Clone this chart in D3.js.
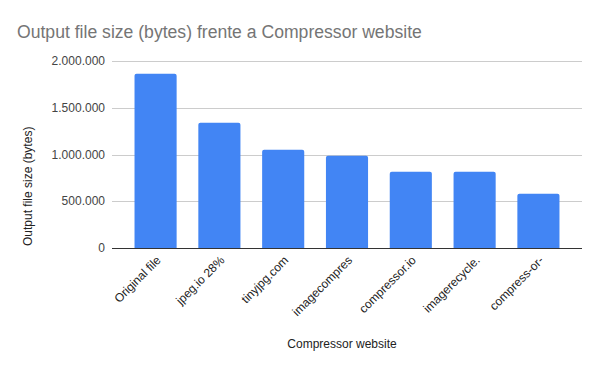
<!DOCTYPE html>
<html><head><meta charset="utf-8">
<script src="https://cdn.jsdelivr.net/npm/d3@7"></script>
<style>body{margin:0;background:#fff;}svg{display:block;font-family:Arial,"Liberation Sans",sans-serif;}</style>
</head><body>
<svg id="c" width="600" height="371"></svg>
<script>
const categories = ["Original file","jpeg.io 28%","tinyjpg.com","imagecompres","compressor.io","imagerecycle.","compress-or-"];
const values = [1864000,1340000,1051000,987000,816000,816000,581000];
const yTicks = [0,500000,1000000,1500000,2000000];
const yTickLabels = ["0","500.000","1.000.000","1.500.000","2.000.000"];
const title = "Output file size (bytes) frente a Compressor website";
const xTitle = "Compressor website";
const yTitle = "Output file size (bytes)";

const svg = d3.select("#c");
const m = {left:112, right:18, top:61, bottom:123};
const W = 600, H = 371;
const x = d3.scaleBand().domain(categories).range([m.left, W-m.right]).paddingInner(0.34).paddingOuter(0.353);
const y = d3.scaleLinear().domain([0,2000000]).range([H-m.bottom, m.top]);

svg.append("text").attr("x",17).attr("y",38).attr("font-size",17.6).attr("fill","#757575").text(title);

const grid = svg.append("g");
yTicks.forEach((t,i)=>{
  if(i>0) grid.append("line").attr("x1",m.left).attr("x2",W-m.right).attr("y1",Math.round(y(t))+0.5).attr("y2",Math.round(y(t))+0.5).attr("stroke","#cccccc").attr("stroke-width",1);
  svg.append("text").attr("x",105).attr("y",y(t)+4).attr("text-anchor","end").attr("font-size",12).attr("fill","#444").text(yTickLabels[i]);
});

const r = 2;
svg.append("g").selectAll("path").data(values).join("path")
  .attr("fill","#4285f4")
  .attr("d",(d,i)=>{
    const x0 = x(categories[i]), w = x.bandwidth(), y0 = y(d), yb = y(0);
    return `M${x0},${yb}V${y0+r}Q${x0},${y0} ${x0+r},${y0}H${x0+w-r}Q${x0+w},${y0} ${x0+w},${y0+r}V${yb}Z`;
  });

svg.append("line").attr("x1",m.left).attr("x2",W-m.right).attr("y1",Math.round(y(0))+0.5).attr("y2",Math.round(y(0))+0.5).attr("stroke","#333").attr("stroke-width",1);

svg.append("g").selectAll("text").data(categories).join("text")
  .attr("transform",d=>`translate(${x(d)+x.bandwidth()/2+6},${y(0)+13}) rotate(-45)`)
  .attr("text-anchor","end").attr("font-size",12).attr("fill","#222").text(d=>d);

svg.append("text").attr("x",342).attr("y",348).attr("text-anchor","middle").attr("font-size",12).attr("fill","#222").text(xTitle);
svg.append("text").attr("transform",`translate(32,246) rotate(-90)`).attr("text-anchor","start").attr("font-size",12).attr("fill","#222").text(yTitle);
</script>
</body></html>
